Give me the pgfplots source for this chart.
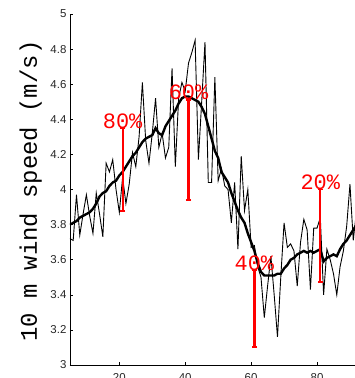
\documentclass[border=0pt]{standalone}
\usepackage{fontspec}
\setmainfont{Liberation Sans}
\setmonofont{Liberation Mono}
\usepackage{pgfplots}
\usepackage{pgfplotstable}
\pgfplotsset{compat=1.18}

% daily wind speed (raw) and its running mean
\pgfplotstableread{
x raw smooth
5 3.72 3.80
6 3.71 3.81
7 3.97 3.82
8 3.74 3.84
9 3.86 3.85
10 3.97 3.86
11 3.85 3.87
12 3.75 3.89
13 3.98 3.92
14 3.86 3.96
15 3.73 3.98
16 4.15 3.99
17 4.10 4.02
18 4.17 4.04
19 4.00 4.05
20 3.87 4.08
21 4.07 4.10
22 3.92 4.13
23 4.03 4.16
24 4.21 4.19
25 4.13 4.21
26 4.30 4.24
27 4.61 4.27
28 4.28 4.29
29 4.15 4.30
30 4.32 4.31
31 4.52 4.35
32 4.24 4.32
33 4.32 4.31
34 4.18 4.36
35 4.24 4.39
36 4.69 4.42
37 4.13 4.45
38 4.52 4.49
39 4.61 4.52
40 4.56 4.53
41 4.72 4.53
42 4.78 4.52
43 4.85 4.51
44 4.17 4.50
45 4.50 4.47
46 4.84 4.43
47 4.04 4.36
48 4.04 4.29
49 4.64 4.22
50 4.05 4.18
51 4.12 4.10
52 4.02 4.07
53 4.00 4.04
54 3.81 3.98
55 4.04 3.93
56 3.66 3.88
57 4.19 3.84
58 3.88 3.81
59 4.00 3.75
60 3.67 3.70
61 3.68 3.65
62 3.56 3.58
63 3.50 3.53
64 3.27 3.51
65 3.45 3.51
66 3.62 3.51
67 3.40 3.51
68 3.16 3.52
69 3.50 3.52
70 3.81 3.55
71 3.67 3.57
72 3.69 3.60
73 3.65 3.61
74 3.45 3.63
75 3.70 3.64
76 3.83 3.65
77 3.77 3.64
78 3.43 3.65
79 3.78 3.64
80 3.78 3.65
81 3.84 3.66
82 3.40 3.59
83 3.66 3.61
84 3.60 3.62
85 3.52 3.63
86 3.40 3.62
87 3.56 3.66
88 3.65 3.69
89 3.79 3.71
90 4.03 3.74
91 3.71 3.77
92 3.88 3.80
}\winddata

\begin{document}
\begin{tikzpicture}
\begin{axis}[
  scale only axis,
  width=285bp, height=351bp,
  xmin=5, xmax=91.5, ymin=3, ymax=5,
  axis x line*=bottom, axis y line*=left,
  axis line style={-, black, line width=0.6pt},
  tick align=inside,
  major tick length=3bp,
  tick style={black, line width=0.6pt},
  xtick={20,40,60,80},
  ytick={3,3.2,3.4,3.6,3.8,4,4.2,4.4,4.6,4.8,5},
  yticklabels={3,3.2,3.4,3.6,3.8,4,4.2,4.4,4.6,4.8,5},
  tick label style={font=\fontsize{11.5}{13}\selectfont, text=black!85},
  /pgf/number format/assume math mode=true,
  xticklabel style={yshift=-4.5bp},
  ylabel={10 m wind speed (m/s)},
  ylabel style={font=\ttfamily\fontsize{24}{26}\selectfont,
    at={(axis description cs:-0.138,0.495)}, anchor=center},
]
\addplot[black, line width=0.9pt] table[x=x, y=raw] {\winddata};
\addplot[black, line width=2.4pt] table[x=x, y=smooth] {\winddata};

% percentile ranges
\addplot[red, line width=2.2pt, mark=-, mark size=2.6bp, mark options={line width=2pt}]
  coordinates {(21,3.88) (21,4.35)};
\addplot[red, line width=2.2pt, mark=-, mark size=2.6bp, mark options={line width=2pt}]
  coordinates {(41,3.94) (41,4.51)};
\addplot[red, line width=2.2pt, mark=-, mark size=2.6bp, mark options={line width=2pt}]
  coordinates {(61,3.10) (61,3.54)};
\addplot[red, line width=2.2pt, mark=-, mark size=2.6bp, mark options={line width=2pt}]
  coordinates {(81,3.475) (81,4.00)};

\begin{scope}[every node/.style={red, font=\ttfamily\fontsize{22}{24}\selectfont, anchor=base, inner sep=0pt}]
\node at (axis cs:21,4.35) {80\%};
\node at (axis cs:41,4.51) {60\%};
\node at (axis cs:61,3.54) {40\%};
\node at (axis cs:81,4.00) {20\%};
\end{scope}
\coordinate (boxSW) at (rel axis cs:0,0);
\coordinate (boxNE) at (rel axis cs:1,1);
\end{axis}
\pgfresetboundingbox
\path[use as bounding box] ([shift={(-69.9bp,-13bp)}]boxSW) rectangle ([shift={(0bp,14bp)}]boxNE);
\end{tikzpicture}
\end{document}
